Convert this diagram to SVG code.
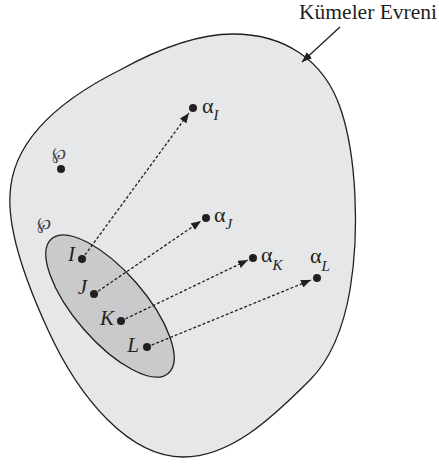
<svg xmlns="http://www.w3.org/2000/svg" width="439" height="464" viewBox="0 0 439 464">
<style>
.lbl{font-family:"Liberation Serif","DejaVu Serif",serif;fill:#231f20}
.it{font-style:italic}
.p{font-family:"DejaVu Serif",serif;fill:#444;font-size:17px}
.dot{fill:#231f20}
.con{stroke:#231f20;stroke-width:1.3;stroke-dasharray:3 2;fill:none}
</style>
<defs>
<marker id="ah" viewBox="0 0 10 8" refX="10" refY="4" markerWidth="10" markerHeight="8" markerUnits="userSpaceOnUse" orient="auto">
<path d="M0,0 L10,4 L0,8 Z" fill="#231f20"/>
</marker>
</defs>
<g id="universe">
<path d="M233,34 C282,34 324,58 341,110 C356,155 360,230 350,290 C343,330 330,360 310,380 C270,420 230,457 183,457 C130,457 80,400 48,330 C25,280 8,230 10,195 C12,140 60,100 120,70 C160,48 200,34 233,34 Z" fill="#e6e7e8" stroke="#231f20" stroke-width="1.3"/>
</g>
<g id="subset">
<ellipse cx="110" cy="306" rx="89" ry="35" transform="rotate(49 110 306)" fill="#cacacc" stroke="#231f20" stroke-width="1.3"/>
<text class="p" x="52" y="159">℘</text>
<text class="p" x="37" y="229">℘</text>
</g>
<g id="p-dot"><circle class="dot" cx="61" cy="169" r="4"/></g>
<g id="I"><circle class="dot" cx="82" cy="259" r="4"/><text class="lbl it" x="75" y="261" font-size="21" text-anchor="end">I</text></g>
<g id="J"><circle class="dot" cx="94" cy="294" r="4"/><text class="lbl it" x="87" y="294" font-size="21" text-anchor="end">J</text></g>
<g id="K"><circle class="dot" cx="121" cy="321" r="4"/><text class="lbl it" x="114" y="325" font-size="21" text-anchor="end">K</text></g>
<g id="L"><circle class="dot" cx="147" cy="347" r="4"/><text class="lbl it" x="139" y="352" font-size="21" text-anchor="end">L</text></g>
<g id="aI"><circle class="dot" cx="193" cy="108" r="4"/><text class="lbl" x="202" y="113" font-size="22">α<tspan class="it" font-size="15" dy="7">I</tspan></text></g>
<g id="aJ"><circle class="dot" cx="206" cy="218" r="4"/><text class="lbl" x="214" y="222" font-size="22">α<tspan class="it" font-size="15" dy="7">J</tspan></text></g>
<g id="aK"><circle class="dot" cx="253" cy="258" r="4"/><text class="lbl" x="261" y="262" font-size="22">α<tspan class="it" font-size="15" dy="8">K</tspan></text></g>
<g id="aL"><circle class="dot" cx="317" cy="278" r="4"/><text class="lbl" x="310" y="263" font-size="22">α<tspan class="it" font-size="15" dy="8">L</tspan></text></g>
<g id="title"><text class="lbl" x="437" y="19" font-size="21.5" text-anchor="end">Kümeler Evreni</text></g>
<g id="connectors">
<line class="con" x1="82" y1="259" x2="189" y2="113" marker-end="url(#ah)"/>
<line class="con" x1="94" y1="294" x2="201" y2="221" marker-end="url(#ah)"/>
<line class="con" x1="121" y1="321" x2="248" y2="260" marker-end="url(#ah)"/>
<line class="con" x1="147" y1="347" x2="311" y2="280" marker-end="url(#ah)"/>
<line x1="340" y1="27" x2="302" y2="62" stroke="#231f20" stroke-width="1.3" marker-end="url(#ah)"/>
</g>
</svg>
